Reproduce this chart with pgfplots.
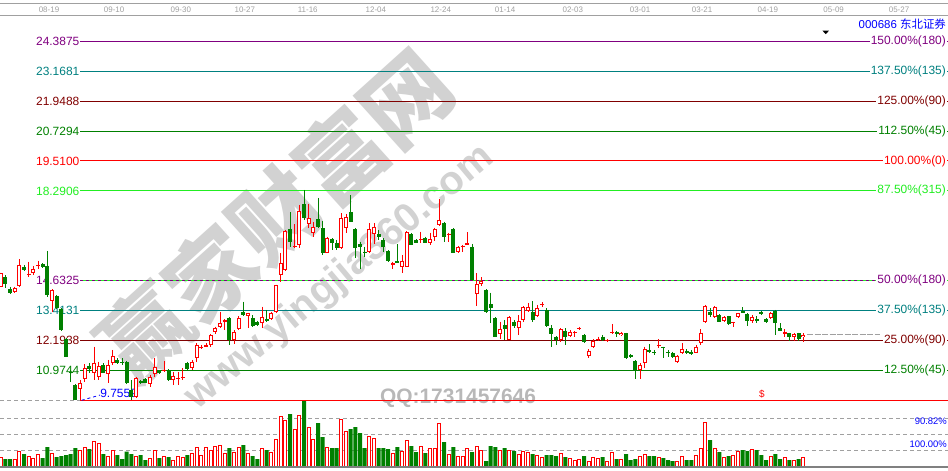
\documentclass[border=0pt]{standalone}
\usepackage{fontspec}
\setmainfont{Liberation Sans}
\newfontfamily\cjk{Noto Sans CJK SC}
\usepackage{pgfplots}
\pgfplotsset{compat=1.18}
\usepackage{pgfplotstable}

\definecolor{cred}{HTML}{FF0000}
\definecolor{cgreen}{HTML}{008000}
\definecolor{cpurple}{HTML}{800080}
\definecolor{cteal}{HTML}{008080}
\definecolor{cdred}{HTML}{800000}
\definecolor{clime}{HTML}{22EE22}
\definecolor{cblue}{HTML}{0000FF}
\definecolor{cgray}{HTML}{A0A0A0}
\definecolor{wm}{HTML}{D2D2D2}

% daily candles, rising days (red, hollow)
\pgfplotstableread{
x o h l c v
0 14.39 14.96 14.36 14.93 8.7
3 14.16 14.39 14.13 14.32 6.7
4 14.41 15.50 14.36 15.27 15
6 14.89 15.41 14.79 14.92 10
7 14.96 15.23 14.86 15.11 7.7
8 15.26 15.45 15.09 15.28 12
11 13.82 14.28 13.37 14.25 13
17 10.20 10.58 9.76 10.47 16
18 10.62 11.23 10.51 11.06 18.7
20 10.85 11.94 10.58 11.29 25
21 10.72 11.33 10.58 11.15 23
23 10.81 11.40 10.45 11.19 10
24 11.26 11.81 11.19 11.56 16
29 9.90 10.69 9.84 10.65 10
32 10.42 10.79 10.31 10.69 7.7
33 10.83 11.47 10.72 11.13 16
35 10.98 11.36 10.92 11.00 10
37 10.58 10.92 10.38 10.75 6
38 10.61 10.92 10.38 10.66 9.7
39 10.66 11.06 10.58 10.69 8.7
41 11.06 11.40 10.99 11.33 13
42 11.47 12.08 11.33 12.01 18.7
43 11.87 12.01 11.85 11.94 10.7
44 11.94 12.08 11.93 12.01 18.7
45 12.01 12.46 11.94 12.40 16
46 12.55 12.76 12.46 12.72 19.7
47 12.76 13.37 12.69 12.89 20.7
48 12.96 13.06 12.62 13.03 13
50 12.21 12.62 12.04 12.54 14
51 12.65 13.19 12.62 13.12 19
53 13.19 13.33 12.69 13.30 13
56 12.89 13.57 12.69 13.16 17.7
58 13.06 13.37 13.03 13.30 14
59 13.37 14.47 13.33 14.44 26.7
60 14.86 15.76 14.58 15.35 50
61 15.07 16.70 15.04 16.67 45.7
63 16.00 16.94 15.98 16.03 36.7
64 16.09 17.72 15.98 17.46 51
66 16.94 17.76 16.79 17.17 39
67 16.59 17.02 16.43 16.82 26.7
70 15.77 16.43 15.75 16.36 18.7
73 15.95 17.38 15.92 17.17 46.7
74 16.77 17.35 16.56 17.21 34.7
79 15.81 16.97 15.77 16.72 29.7
80 16.53 16.99 16.13 16.83 27.7
84 15.27 15.41 15.12 15.34 13
86 15.20 15.68 14.93 15.45 15
87 15.20 16.64 15.18 16.61 25.7
90 16.30 16.63 16.15 16.33 20
92 16.15 16.59 16.09 16.33 18
93 16.40 16.79 16.26 16.75 18
94 16.90 17.95 16.86 17.10 43
96 16.49 16.59 16.22 16.55 12
98 15.81 16.04 15.77 16.02 9.7
99 16.03 16.09 15.81 16.06 9.7
100 16.10 16.60 16.07 16.15 17.7
102 14.09 14.93 13.60 14.48 20
103 14.50 14.77 14.41 14.62 15.7
107 12.46 12.96 12.24 12.68 16
109 12.21 13.18 12.21 13.14 16
111 12.69 13.23 12.42 12.99 12
112 13.03 13.60 12.96 13.54 15
113 13.41 13.73 13.37 13.57 14
115 13.19 13.64 13.16 13.50 10.7
116 13.65 13.75 13.57 13.68 9
120 12.21 12.69 12.14 12.65 13
122 12.39 12.62 12.35 12.55 8
123 12.50 12.59 12.32 12.53 6
124 12.66 12.76 12.62 12.69 6.7
126 11.56 11.83 11.47 11.78 5
127 11.91 12.24 11.87 12.16 8.7
128 12.24 12.35 12.17 12.27 7.7
130 12.17 12.24 12.13 12.20 5
131 12.53 12.87 12.46 12.55 13.7
133 12.40 12.55 12.38 12.51 6.7
137 10.99 11.26 10.61 11.19 9.7
138 11.26 11.94 11.06 11.83 12
141 11.97 12.24 11.87 12.01 8.7
145 11.32 11.60 11.29 11.58 4.7
146 11.67 12.08 11.64 11.83 9.7
149 11.70 12.01 11.67 11.94 10.7
150 12.08 12.65 12.01 12.51 17.7
151 12.96 13.64 12.92 13.61 43.7
153 13.14 13.60 13.10 13.57 17.7
155 12.99 13.19 12.96 13.16 9
157 12.91 12.96 12.76 12.93 10.7
158 13.14 13.33 13.10 13.30 15
161 13.00 13.23 12.89 13.16 16.7
165 13.10 13.34 13.06 13.30 9.7
168 12.47 12.65 12.35 12.55 8.7
170 12.35 12.48 12.18 12.44 6
172 12.32 12.48 12.14 12.42 8.7
}\upcandles

% falling days (green, filled)
\pgfplotstableread{
x o h l c v
1 14.79 14.86 14.32 14.50 7
2 14.28 14.39 14.08 14.14 7
5 15.20 15.27 15.04 15.07 12
9 15.30 15.34 15.13 15.18 8
10 15.23 15.85 13.98 14.05 19
12 14.01 14.05 13.46 13.50 9
13 13.46 13.50 12.59 12.62 10
14 12.24 12.28 11.51 11.53 11
15 10.92 10.99 10.51 10.90 12
16 10.38 10.42 9.77 9.77 18
19 11.17 11.26 10.85 11.03 17
22 11.19 11.26 10.85 10.88 12
25 11.40 11.47 11.23 11.29 11
26 11.30 11.47 11.19 11.28 7
27 11.32 11.36 10.42 10.45 14.3
28 10.18 10.58 9.77 9.90 12
30 10.54 10.58 10.42 10.45 11
31 10.61 10.65 10.45 10.47 6
34 10.95 10.99 10.83 10.85 8
36 10.99 11.02 10.56 10.58 9
40 11.26 11.33 10.99 11.03 11
49 13.12 13.16 12.01 12.21 18
52 13.37 13.78 13.19 13.23 21
54 13.10 13.23 12.76 12.80 10
55 12.96 13.00 12.80 12.83 7
57 13.06 13.44 12.96 13.00 16
62 16.74 17.43 16.00 16.21 52
65 17.76 18.33 17.10 17.19 65.3
68 17.15 18.01 16.76 16.81 43
69 16.77 17.08 15.68 15.77 29
71 16.32 16.36 15.88 16.15 18
72 16.18 16.29 15.88 15.95 18
75 17.43 18.12 17.04 17.04 37
76 16.72 16.77 15.54 15.95 39
77 16.13 16.22 15.09 16.02 33
78 15.80 16.02 15.58 15.77 18
81 16.53 16.70 16.29 16.43 18
82 16.29 16.36 15.81 16.02 18
83 15.85 15.88 15.41 15.45 17
85 15.43 16.11 15.34 15.37 19
88 16.53 16.56 16.09 16.09 20
89 16.29 16.32 16.15 16.18 14
91 16.38 16.43 16.15 16.18 13
95 16.97 17.04 16.22 16.40 24
97 16.75 16.78 15.77 15.77 19
101 16.02 16.13 14.66 14.66 14
104 14.25 14.28 13.33 13.34 5
105 13.68 14.14 12.89 13.50 20
106 13.10 13.14 12.32 12.32 19
108 12.82 13.03 12.21 12.66 18
110 12.96 13.03 12.69 12.80 15
114 13.35 13.80 12.96 13.03 12
117 13.44 13.50 12.76 12.80 11
118 12.70 12.82 11.94 12.46 11
119 12.35 12.38 12.01 12.21 10
121 12.58 12.69 12.01 12.35 9
125 12.42 12.46 12.08 12.12 10
129 12.35 12.42 12.16 12.21 9
132 12.55 12.59 12.35 12.46 7
134 12.48 12.51 11.44 11.47 12
135 11.60 11.64 11.47 11.51 6
136 11.36 11.40 10.61 10.95 7
139 11.81 12.04 11.67 11.74 10
140 11.72 11.81 11.60 11.70 10
142 11.91 11.94 11.47 11.89 8
143 11.72 11.81 11.53 11.67 6
144 11.67 11.74 11.47 11.51 5
147 11.78 11.83 11.64 11.70 6
148 11.74 11.81 11.62 11.64 6
152 13.34 13.50 13.16 13.23 26
154 13.23 13.27 12.93 12.96 14
156 13.19 13.21 12.84 12.87 10
159 13.39 13.54 13.30 13.33 16
160 13.26 13.30 12.78 13.00 15
162 13.07 13.19 12.92 12.99 16
163 13.35 13.41 13.23 13.26 11
164 13.06 13.10 12.89 12.96 6
166 13.41 13.44 12.42 12.89 12
167 12.70 12.89 12.57 12.59 7
169 12.48 12.51 12.17 12.35 6
171 12.48 12.51 12.18 12.24 7
}\downcandles

\newcommand\lf{\fontsize{12}{12}\selectfont}
% one gann level: price, colour, left text, right text
\newcommand\lvl[4]{%
  \addplot[#2, line width=1bp] coordinates {(17,#1) (203,#1)};
  \node[anchor=east, text=#2, inner sep=0.5bp, font=\lf] at (axis cs:17,#1) {#3};
  \node[anchor=east, text=#2, fill=white, inner sep=1bp, font=\lf] at (axis cs:202.8,#1) {#4};
}
\newcommand\dt[2]{\node[text=cgray, font=\fontsize{8}{8}\selectfont] at (axis cs:#1,25.663) {#2};}

\begin{document}
\begin{tikzpicture}
\path[use as bounding box] (0bp,0bp) rectangle (948bp,471bp);

% volume panel
\begin{axis}[at={(0bp,5bp)}, anchor=south west, scale only axis,
  width=948bp, height=66bp, xmin=-0.15, xmax=203, ymin=0, ymax=66,
  axis lines=none, xtick=\empty, ytick=\empty, clip=false]
\addplot[cgray, line width=1bp, dash pattern=on 4bp off 3bp] coordinates {(-0.15,66) (203,66)};
\addplot[cgray, line width=1bp, dash pattern=on 4bp off 3bp] coordinates {(-0.15,48) (203,48)};
\addplot[cgray, line width=1bp, dash pattern=on 4bp off 3bp] coordinates {(-0.15,32) (203,32)};
\addplot[cgray, line width=1bp, dash pattern=on 4bp off 3bp] coordinates {(-0.15,16) (203,16)};
\addplot[ybar, bar width=4bp, bar shift=0pt, fill=cgreen, draw=none] table[x=x, y=v] {\downcandles};
\addplot[ybar, bar width=2.8bp, bar shift=0pt, fill=white, draw=cred, line width=1bp] table[x=x, y=v] {\upcandles};
\addplot[gray, line width=2bp] coordinates {(-0.15,-1.2) (203,-1.2)};
\node[anchor=east, text=cblue, inner sep=0, font=\fontsize{9.5}{10}\selectfont] at (axis cs:202.8,45) {90.82\%};
\node[anchor=east, text=cblue, inner sep=0, font=\fontsize{9.5}{10}\selectfont] at (axis cs:202.8,22) {100.00\%};
\end{axis}

% price panel
\begin{axis}[at={(0bp,0bp)}, anchor=south west, scale only axis,
  width=948bp, height=471bp, xmin=-0.15, xmax=203, ymin=6.874, ymax=26.0708,
  axis lines=none, xtick=\empty, ytick=\empty, clip=false]

% watermark
\node[rotate=42, text=wm, font=\cjk\bfseries\fontsize{88}{88}\selectfont] at (axis cs:58.8,17.31) {赢家财富网};
\node[rotate=40, text=wm, font=\bfseries\fontsize{40}{40}\selectfont] at (axis cs:72.7,14.74) {www.yingjia360.com};
\node[text=black!28, font=\bfseries\fontsize{21}{21}\selectfont] at (axis cs:98,9.85) {QQ:1731457646};

% header with dates
\addplot[cgray, line width=1bp] coordinates {(-0.15,25.948) (203,25.948)};
\addplot[cgray, line width=1bp] coordinates {(-0.15,25.419) (203,25.419)};
\dt{10.35}{08-19}\dt{24.3}{09-10}\dt{38.6}{09-30}\dt{52.3}{10-27}\dt{65.8}{11-16}
\dt{80.4}{12-04}\dt{94.3}{12-24}\dt{108.1}{01-14}\dt{122.6}{02-03}\dt{137}{03-01}
\dt{150.3}{03-21}\dt{164.4}{04-19}\dt{178.5}{05-09}\dt{192.5}{05-27}
\node[anchor=east, text=cblue, inner sep=0, font=\fontsize{11.5}{12}\selectfont] at (axis cs:202.6,25.093) {000686 {\cjk 东北证券}};
\fill[black] (axis cs:176.1,24.82) -- (axis cs:177.5,24.82) -- (axis cs:176.8,24.68) -- cycle;

% gann levels
\lvl{24.3875}{cpurple}{24.3875}{150.00\%(180)}
\lvl{23.1681}{cteal}{23.1681}{137.50\%(135)}
\lvl{21.9488}{cdred}{21.9488}{125.00\%(90)}
\lvl{20.7294}{cgreen}{20.7294}{112.50\%(45)}
\lvl{19.5100}{cred}{19.5100}{100.00\%(0)}
\lvl{18.2906}{clime}{18.2906}{87.50\%(315)}
\addplot[clime, line width=1bp] coordinates {(17,14.6325) (203,14.6325)};
\addplot[cpurple, line width=1bp, dash pattern=on 3bp off 3bp] coordinates {(17,14.6325) (203,14.6325)};
\node[anchor=east, text=cpurple, inner sep=0.5bp, font=\lf] at (axis cs:17,14.6325) {14.6325};
\node[anchor=east, text=cpurple, fill=white, inner sep=1bp, font=\lf] at (axis cs:202.8,14.6325) {50.00\%(180)};
\lvl{13.4131}{cteal}{13.4131}{37.50\%(135)}
\lvl{12.1938}{cdred}{12.1938}{25.00\%(90)}
\lvl{10.9744}{cgreen}{10.9744}{12.50\%(45)}
\addplot[cgray, line width=1bp, dash pattern=on 6bp off 1.5bp] coordinates {(172.8,12.417) (188.4,12.417)};
\addplot[cred, line width=1bp] coordinates {(17,9.7559) (203,9.7559)};
\addplot[cblue, line width=0.8bp, dashed] coordinates {(17.35,9.756) (21.3,9.97)};
\node[anchor=west, text=cblue, inner sep=0, font=\lf] at (axis cs:21.3,10.054) {9.7559};
\node[text=cred, font=\fontsize{10}{10}\selectfont] at (axis cs:163.1,10.01) {\$};

% wicks
\addplot[draw=none, mark=none, error bars/y dir=minus, error bars/y explicit,
  error bars/error mark=none, error bars/error bar style={draw=cgreen, line width=1bp, solid}]
  table[x=x, y=h, y error minus expr=\thisrow{h}-\thisrow{l}] {\downcandles};
\addplot[draw=none, mark=none, error bars/y dir=minus, error bars/y explicit,
  error bars/error mark=none, error bars/error bar style={draw=cred, line width=1bp, solid}]
  table[x=x, y=h, y error minus expr=\thisrow{h}-\thisrow{l}] {\upcandles};
% bodies
\addplot[draw=none, mark=none, error bars/y dir=minus, error bars/y explicit,
  error bars/error mark=none, error bars/error bar style={draw=cgreen, line width=4bp, solid}]
  table[x=x, y=o, y error minus expr={max(\thisrow{o}-\thisrow{c},0.04)}] {\downcandles};
\addplot[draw=none, mark=none, error bars/y dir=minus, error bars/y explicit,
  error bars/error mark=none, error bars/error bar style={draw=cred, line width=4bp, solid}]
  table[x=x, y=c, y error minus expr={max(\thisrow{c}-\thisrow{o},0.04)}] {\upcandles};
\addplot[draw=none, mark=none, error bars/y dir=minus, error bars/y explicit,
  error bars/error mark=none, error bars/error bar style={draw=white, line width=2bp, solid}]
  table[x=x, y expr=\thisrow{c}-0.041, y error minus expr={max(\thisrow{c}-\thisrow{o}-0.082,0)}] {\upcandles};
\end{axis}
\end{tikzpicture}
\end{document}
